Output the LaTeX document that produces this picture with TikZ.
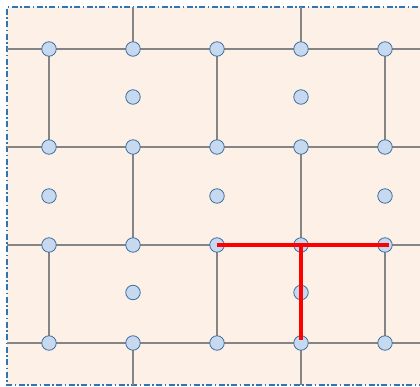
\documentclass[tikz,border=0pt]{standalone}
\usetikzlibrary{calc}
\definecolor{bgpeach}{HTML}{FDF0E6}
\definecolor{gridgray}{HTML}{858585}
\definecolor{dotfill}{HTML}{C6D9F1}
\definecolor{dotdraw}{HTML}{41719C}
\definecolor{borderblue}{HTML}{2E75B6}
\tikzset{
  gline/.style={draw=gridgray, line width=2.8pt},
  rline/.style={draw=red, line width=3.6pt},
  pt/.style={circle, fill=dotfill, draw=dotdraw, line width=0.8pt, minimum size=14.5pt, inner sep=0pt},
}
\begin{document}
\begin{tikzpicture}[x=1pt,y=-1pt]
\useasboundingbox (0,0) rectangle (420,387);
\begin{scope}
\clip (0,0) rectangle (420,387);
\fill[bgpeach] (7,7) rectangle (430,385);
\draw[borderblue, line width=1.2pt, dash pattern=on 6pt off 2.5pt on 1.5pt off 2.5pt] (430,7) -- (7,7) -- (7,385) -- (430,385);
% coordinates
\foreach \r/\y in {1/49,2/147,3/245,4/343}{
  \foreach \c/\x in {1/49,2/133,3/217,4/301,5/385}{
    \coordinate (g\r\c) at (\x,\y);
  }
}
\coordinate (L1) at (7,49);  \coordinate (R1) at (420,49);
\coordinate (L2) at (7,147); \coordinate (R2) at (420,147);
\coordinate (L3) at (7,245); \coordinate (R3) at (420,245);
\coordinate (L4) at (7,343); \coordinate (R4) at (420,343);
\coordinate (T2) at (133,7); \coordinate (T4) at (301,7);
\coordinate (B2) at (133,385); \coordinate (B4) at (301,385);
% horizontal lines
\foreach \r in {1,2,3,4}{ \draw[gline] (L\r) -- (R\r); }
% verticals
\draw[gline] (T2) -- (g12);
\draw[gline] (T4) -- (g14);
\foreach \c in {1,3,5}{ \draw[gline] (g1\c) -- (g2\c); \draw[gline] (g3\c) -- (g4\c); }
\foreach \c in {2,4}{ \draw[gline] (g2\c) -- (g3\c); }
\draw[gline] (g42) -- (B2);
\draw[gline] (g44) -- (B4);
% grid dots
\foreach \r in {1,2,3,4}{
  \foreach \c in {1,2,3,4,5}{
    \node[pt] (n\r\c) at (g\r\c) {};
  }
}
% centre dots
\node[pt] (m12) at (133,97) {};
\node[pt] (m14) at (301,97) {};
\node[pt] (m21) at (49,196) {};
\node[pt] (m23) at (217,196) {};
\node[pt] (m25) at (385,196) {};
\node[pt] (m32) at (133,292.5) {};
\node[pt] (m34) at (301,292.5) {};
% red path
\draw[rline] (n33.center) -- ($(n35.center)+(4,0)$);
\draw[rline] (n34.center) -- ($(n44.center)+(0,-3)$);
\end{scope}
\end{tikzpicture}
\end{document}
